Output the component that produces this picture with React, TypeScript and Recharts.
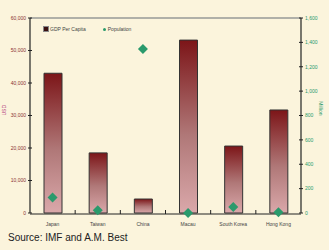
import React from "react";
import {
  ComposedChart,
  Bar,
  Scatter,
  XAxis,
  YAxis,
  ReferenceLine,
} from "recharts";

const categories = ["Japan", "Taiwan", "China", "Macau", "South Korea", "Hong Kong"];
const gdpPerCapita = [43000, 18500, 4300, 53200, 20600, 31700];
const population = [127, 23, 1345, 0.6, 49, 7];
const leftTicks = [0, 10000, 20000, 30000, 40000, 50000, 60000];
const rightTicks = [0, 200, 400, 600, 800, 1000, 1200, 1400, 1600];
const boundaryTicks = [1, 2, 3, 4, 5];

const data = categories.map((c, i) => ({
  name: c,
  idx: i + 0.5,
  gdp: gdpPerCapita[i],
  pop: population[i],
}));

const fmt = (v: number) => v.toLocaleString("en-US");
const FONT = "Arial, Liberation Sans, sans-serif";
const GAP = 4;

const Diamond = (props: any) => {
  const { cx, cy } = props;
  if (cx == null || cy == null) return null;
  const r = 5;
  return (
    <polygon
      points={`${cx},${cy - r} ${cx + r},${cy} ${cx},${cy + r} ${cx - r},${cy}`}
      fill="#2a9a6c"
    />
  );
};

const BoundaryTick = (props: any) => {
  const { x, y } = props;
  return <line x1={x} x2={x} y1={y - 3} y2={y + 1} stroke="#222" strokeWidth={1} />;
};

const LeftTick = (props: any) => {
  const { x, y, payload } = props;
  const ax = x + GAP;
  return (
    <g>
      <line x1={ax - 2} x2={ax + 2} y1={y} y2={y} stroke="#222" strokeWidth={1} />
      <text x={x} y={y} dy={1.8} textAnchor="end" fontSize={5} fill="#8a3030" fontFamily={FONT}>
        {fmt(payload.value)}
      </text>
    </g>
  );
};

const RightTick = (props: any) => {
  const { x, y, payload } = props;
  const ax = x - GAP;
  return (
    <g>
      <line x1={ax - 2} x2={ax + 2} y1={y} y2={y} stroke="#222" strokeWidth={1} />
      <text x={x} y={y} dy={1.8} textAnchor="start" fontSize={5} fill="#2a9a6c" fontFamily={FONT}>
        {fmt(payload.value)}
      </text>
    </g>
  );
};

export default function App() {
  return (
    <div style={{ position: "absolute", left: 0, top: 0, width: 329, height: 250, background: "#fbf4dc" }}>
      <ComposedChart
        width={329}
        height={250}
        data={data}
        margin={{ top: 18, right: 0, bottom: 24, left: 0 }}
      >
        <defs>
          <linearGradient id="barGrad" x1="0" y1="0" x2="0" y2="1">
            <stop offset="0%" stopColor="#7c1518" />
            <stop offset="55%" stopColor="#b07878" />
            <stop offset="100%" stopColor="#daa8aa" />
          </linearGradient>
        </defs>
        <XAxis
          dataKey="name"
          xAxisId="cat"
          axisLine={{ stroke: "#222", strokeWidth: 1.2 }}
          tickLine={false}
          tick={{ fontSize: 5, fill: "#444", fontFamily: FONT }}
          height={12}
          interval={0}
        />
        <XAxis
          xAxisId="aa"
          type="number"
          dataKey="idx"
          domain={[0, 6]}
          ticks={boundaryTicks}
          axisLine={false}
          tickLine={false}
          tickSize={0}
          tickMargin={0}
          tick={BoundaryTick}
          height={1}
          orientation="bottom"
          interval={0}
        />
        <YAxis
          yAxisId="left"
          domain={[0, 60000]}
          ticks={leftTicks}
          width={30}
          axisLine={{ stroke: "#222", strokeWidth: 1.2 }}
          tickLine={false}
          tickSize={0}
          tickMargin={GAP}
          tick={LeftTick}
          interval={0}
          label={{ value: "USD", angle: -90, position: "insideLeft", offset: 4, fontSize: 5, fill: "#b0307a", fontFamily: FONT }}
        />
        <YAxis
          yAxisId="right"
          orientation="right"
          domain={[0, 1600]}
          ticks={rightTicks}
          width={28}
          axisLine={{ stroke: "#222", strokeWidth: 1.2 }}
          tickLine={false}
          tickSize={0}
          tickMargin={GAP}
          tick={RightTick}
          interval={0}
          label={{ value: "Million", angle: 90, position: "insideRight", offset: 8, fontSize: 5, fill: "#2a9a6c", fontFamily: FONT }}
        />
        <ReferenceLine
          xAxisId="cat"
          yAxisId="left"
          y={60000}
          stroke="#b0b0a8"
          strokeWidth={2}
          ifOverflow="extendDomain"
        />
        <Bar
          xAxisId="cat"
          yAxisId="left"
          dataKey="gdp"
          name="GDP Per Capita"
          barSize={18}
          fill="url(#barGrad)"
          stroke="#333"
          strokeWidth={1}
          isAnimationActive={false}
        />
        <Scatter
          xAxisId="cat"
          yAxisId="right"
          dataKey="pop"
          name="Population"
          shape={Diamond}
          isAnimationActive={false}
        />
      </ComposedChart>
      <div
        style={{
          position: "absolute",
          left: 43,
          top: 26,
          display: "flex",
          alignItems: "center",
          fontFamily: FONT,
          fontSize: 5,
          color: "#444",
        }}
      >
        <span style={{ display: "inline-block", width: 4, height: 4, background: "#3a1010", border: "0.5px solid #888", marginRight: 1 }} />
        <span style={{ marginRight: 17 }}>GDP Per Capita</span>
        <span style={{ display: "inline-block", width: 3, height: 3, borderRadius: 2, background: "#2a9a6c", marginRight: 2 }} />
        <span>Population</span>
      </div>
      <div
        style={{
          position: "absolute",
          left: 8,
          top: 232,
          fontFamily: FONT,
          fontSize: 10,
          color: "#222",
        }}
      >
        Source: IMF and A.M. Best
      </div>
    </div>
  );
}
